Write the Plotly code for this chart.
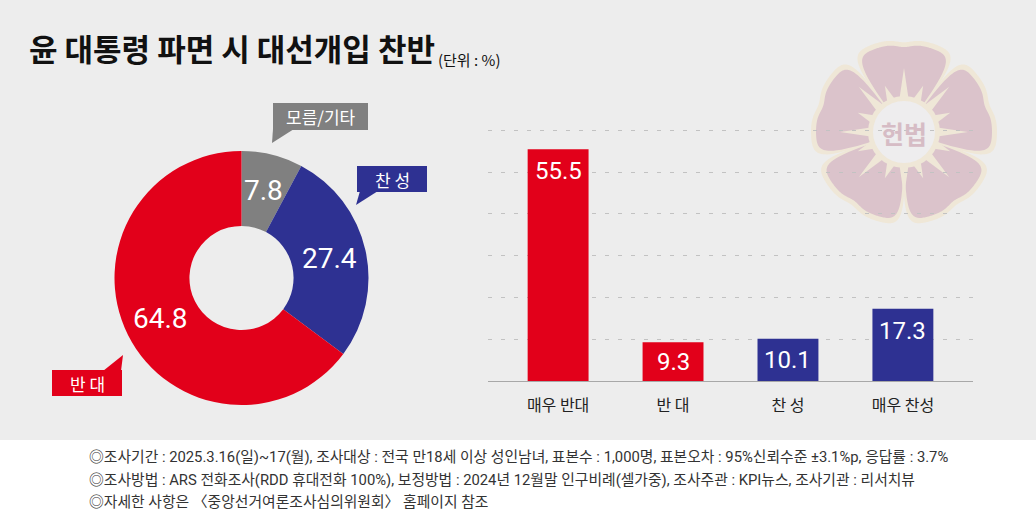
import math
import plotly.graph_objects as go

# ---------------- data ----------------
title_text = "윤 대통령 파면 시 대선개입 찬반"
unit_text = "(단위 : %)"

pie_labels = ["모름/기타", "찬 성", "반 대"]
pie_values = [7.8, 27.4, 64.8]
pie_colors = ["#808080", "#2e3192", "#e2001a"]

bar_categories = ["매우 반대", "반 대", "찬 성", "매우 찬성"]
bar_values = [55.5, 9.3, 10.1, 17.3]
bar_colors = ["#e2001a", "#e2001a", "#2e3192", "#2e3192"]

footer_lines = [
    "◎조사기간 : 2025.3.16(일)~17(월), 조사대상 : 전국 만18세 이상 성인남녀, 표본수 : 1,000명, 표본오차 : 95%신뢰수준 ±3.1%p, 응답률 : 3.7%",
    "◎조사방법 : ARS 전화조사(RDD 휴대전화 100%), 보정방법 : 2024년 12월말 인구비례(셀가중), 조사주관 : KPI뉴스, 조사기관 : 리서치뷰",
    "◎자세한 사항은 〈중앙선거여론조사심의위원회〉 홈페이지 참조",
]

# ---------------- geometry helpers ----------------
W, H = 1036, 518
KR = "Noto Sans CJK KR, sans-serif"
LAT = "Roboto, Noto Sans CJK KR, sans-serif"


def px(x):
    return x / W


def py(y):
    return 1 - y / H


def circle(cx, cy, r, fill):
    return dict(type="circle", xref="paper", yref="paper",
                x0=px(cx - r), x1=px(cx + r), y0=py(cy + r), y1=py(cy - r),
                fillcolor=fill, line=dict(width=0), layer="below")


def poly(points, fill, layer="above"):
    d = "M " + " L ".join(f"{px(x):.5f},{py(y):.5f}" for x, y in points) + " Z"
    return dict(type="path", xref="paper", yref="paper", path=d,
                fillcolor=fill, line=dict(width=0), layer=layer)


def label(x, y, text, size, color, family=KR, xanchor="center", yanchor="middle"):
    return dict(xref="paper", yref="paper", x=px(x), y=py(y), text=text,
                xanchor=xanchor, yanchor=yanchor, showarrow=False,
                font=dict(family=family, size=size, color=color))


fig = go.Figure()

# ---------------- donut ----------------
pcx, pcy, pR, hole = 241.5, 278, 127, 0.41
fig.add_trace(go.Pie(
    labels=pie_labels, values=pie_values, hole=hole, sort=False,
    direction="clockwise", rotation=0,
    marker=dict(colors=pie_colors, line=dict(width=0)),
    textinfo="none", showlegend=False,
    domain=dict(x=[px(pcx - pR), px(pcx + pR)], y=[py(pcy + pR), py(pcy - pR)]),
))

annotations = []
shapes = []

total = sum(pie_values)
cum = 0
rmid = pR * (1 + hole) / 2 + 1
for v in pie_values:
    mid = (cum + v / 2) / total * 2 * math.pi
    cum += v
    tx = pcx + rmid * math.sin(mid)
    ty = pcy - rmid * math.cos(mid)
    annotations.append(label(tx, ty, f"{v}", 28, "white", family=LAT))

# callout boxes (label boxes with tails)
callouts = [
    (pie_labels[0], (273, 103, 368, 130), [(273, 129), (294, 129), (272, 143)], pie_colors[0]),
    (pie_labels[1], (357, 166, 427, 192), [(360, 191), (378, 191), (356, 205)], pie_colors[1]),
    (pie_labels[2], (52, 370, 122, 396), [(103, 371), (121, 371), (123, 355)], pie_colors[2]),
]
for lab, (x0, y0, x1, y1), tail, col in callouts:
    shapes.append(dict(type="rect", xref="paper", yref="paper",
                       x0=px(x0), x1=px(x1), y0=py(y1), y1=py(y0),
                       fillcolor=col, line=dict(width=0), layer="above"))
    shapes.append(poly(tail, col))
    annotations.append(label((x0 + x1) / 2, (y0 + y1) / 2, lab, 17, "white"))

# ---------------- bars ----------------
fig.add_trace(go.Bar(
    x=bar_categories, y=bar_values, marker=dict(color=bar_colors, line=dict(width=0)),
    width=0.53, showlegend=False, xaxis="x", yaxis="y", hoverinfo="x+y",
))
for c, v in zip(bar_categories, bar_values):
    annotations.append(dict(xref="x", yref="y", x=c, y=max(v - 5.3, v / 2),
                            xanchor="center", yanchor="middle",
                            text=f"{v}", showarrow=False,
                            font=dict(family=LAT, size=24, color="white")))

# ---------------- emblem (decoration) ----------------
ecx, ecy = 904, 132
pink, cream = "#dbc3cb", "#efe7d7"
petal_angles = [90, 18, -54, -126, 162]


def petal(a, R, half):
    pts = [(ecx, ecy)]
    n = 80
    for k in range(-n, n + 1):
        u = k / n
        phi = math.radians(a + u * half)
        f = (1 - abs(u) ** 12) ** 0.3 * (1 - 0.035 * math.exp(-(u / 0.2) ** 2))
        r = R * f
        pts.append((ecx + r * math.cos(phi), ecy - r * math.sin(phi)))
    return pts


for a in petal_angles:
    shapes.append(poly(petal(a, 93, 37), cream, layer="below"))
for a in petal_angles:
    shapes.append(poly(petal(a, 88, 35), pink, layer="below"))
# rays
nr = 16
for i in range(nr):
    ang = math.radians(90 + i * 360 / nr)
    L = 64 if i % 2 == 0 else 50
    perp = ang + math.pi / 2
    bx, by = ecx + 30 * math.cos(ang), ecy - 30 * math.sin(ang)
    pts = [(bx + 5 * math.cos(perp), by - 5 * math.sin(perp)),
           (ecx + L * math.cos(ang), ecy - L * math.sin(ang)),
           (bx - 5 * math.cos(perp), by + 5 * math.sin(perp))]
    shapes.append(poly(pts, cream, layer="below"))
shapes.append(circle(ecx, ecy, 36, cream))
shapes.append(circle(ecx, ecy, 31, "#eeedee"))
annotations.append(label(ecx, ecy + 1, "<b>헌법</b>", 25, "#d6bcc5"))

# ---------------- footer ----------------
shapes.insert(0, dict(type="rect", xref="paper", yref="paper", x0=0, x1=1, y0=0, y1=py(440),
                      fillcolor="white", line=dict(width=0), layer="below"))
for i, line in enumerate(footer_lines):
    annotations.append(label(87, 457 + 22.5 * i, line, 14.8, "#333333",
                             family=LAT, xanchor="left"))

# ---------------- title ----------------
annotations.append(label(27, 47, f"<b>{title_text}</b>", 31, "#111111", xanchor="left"))
annotations.append(label(436, 59, unit_text, 15, "#111111", xanchor="left"))

fig.update_layout(
    width=W, height=H,
    margin=dict(l=0, r=0, t=0, b=0),
    paper_bgcolor="#ededed", plot_bgcolor="rgba(0,0,0,0)",
    xaxis=dict(domain=[px(488), px(973)], type="category", range=[-0.61, 3.61],
               showline=True, linecolor="#a8a8a8", linewidth=1, ticks="",
               showgrid=False, zeroline=False,
               tickfont=dict(family=KR, size=16, color="#222222"), ticklabelstandoff=10,
               fixedrange=True),
    yaxis=dict(domain=[py(381), py(122)], range=[0, 62], tick0=0, dtick=10,
               showgrid=True, gridcolor="#c2c2c2", griddash="4px,9px", gridwidth=1,
               showticklabels=False, zeroline=False, showline=False, fixedrange=True),
    shapes=shapes,
    annotations=annotations,
)

fig.write_html("out.html", config={"displayModeBar": False},
               post_script="document.body.style.margin='0';")
